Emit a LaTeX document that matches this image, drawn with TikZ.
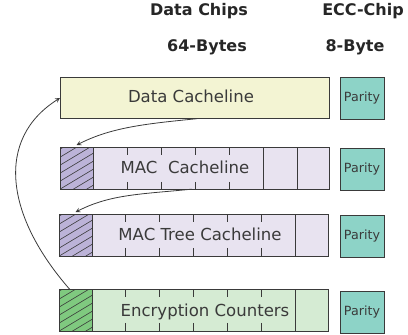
\documentclass[tikz,border=0pt]{standalone}
\usepackage{fontspec}
\setmainfont{DejaVu Sans}
\definecolor{linec}{HTML}{3A3A3A}
\definecolor{datafill}{HTML}{F3F4D3}
\definecolor{macfill}{HTML}{E8E3F0}
\definecolor{machatch}{HTML}{BCB3D8}
\definecolor{encfill}{HTML}{D5EBD3}
\definecolor{enchatch}{HTML}{7FC97F}
\definecolor{parfill}{HTML}{8DD3C7}
\begin{document}
\begin{tikzpicture}[>=stealth,x=0.75pt,y=-0.75pt,
    line/.style={draw=linec,line width=0.7pt,inner sep=0pt,outer sep=0pt},
    cell/.style={line,minimum width=201.75pt,minimum height=31pt},
    hatch/.style={line,minimum width=24.75pt,minimum height=31pt,
        path picture={\foreach \k in {-3,...,7}
            \draw[linec,line width=0.45pt](path picture bounding box.south west)++(0,16-8*\k)--++(40,-24);}},
    parity/.style={line,fill=parfill,minimum width=33pt,minimum height=31.5pt,font=\fontsize{9.5}{10}\selectfont,text=linec},
    label/.style={font=\fontsize{12.4}{14}\selectfont,text=linec},
    head/.style={font=\fontsize{12}{14}\selectfont\bfseries,text=black!85},
    link/.style={->,linec,line width=0.6pt}]
\useasboundingbox(0,0)rectangle(408,335);
\node[head] (hdata) at (199,11) {Data Chips};
\node[head] (hecc) at (363,11) {ECC-Chip};
\node[head] (hsize) at (207,47) {64-Bytes};
\node[head] (hecsize) at (355,47) {8-Byte};

\node[cell,fill=datafill] (data) at (194.5,98) {};
\node[cell,fill=macfill] (mac) at (194.5,168.5) {};
\node[cell,fill=macfill] (tree) at (193.5,235.5) {};
\node[cell,fill=encfill] (enc) at (193.5,310.5) {};

\foreach \x in {127,161,195,229}
{
    \draw[linec](\x,148)--(\x,155);
    \draw[linec](\x,182)--(\x,189);
}
\foreach \x in {263,297}
{
    \draw[linec](\x,148)--(\x,189);
}
\foreach \x in {125,159,193,227,261}
{
    \draw[linec](\x,215)--(\x,222);
    \draw[linec](\x,248)--(\x,256);
    \draw[linec](\x,290)--(\x,297);
    \draw[linec](\x,323)--(\x,331);
}
\draw[linec](295,215)--(295,256);
\draw[linec](295,290)--(295,331);

\node[hatch,fill=machatch] (machatch) at (76.5,168.5) {};
\node[hatch,fill=machatch] (treehatch) at (75.5,235.5) {};
\node[hatch,fill=enchatch] (enchatch) at (75.5,310.5) {};

\node[label] (tdata) at (191,96) {Data Cacheline};
\node[label] (tmac) at (185,167) {MAC\ \ Cacheline};
\node[label] (ttree) at (200,234) {MAC Tree Cacheline};
\node[label] (tenc) at (205,312) {Encryption Counters};

\node[parity] (p1) at (362,98) {Parity};
\node[parity] (p2) at (362,169) {Parity};
\node[parity] (p3) at (362,236) {Parity};
\node[parity] (p4) at (362,312) {Parity};

\draw[link]([xshift=2pt]data.south)..controls +(-50,5) and +(35,-18)..([yshift=2pt]machatch.north);
\draw[link]([xshift=-2pt]mac.south)..controls +(-50,5) and +(35,-18)..([yshift=2pt]treehatch.north);
\draw[link]([xshift=-4pt]enchatch.north)..controls +(-65,-74) and +(-65,41)..(data.west);
\end{tikzpicture}
\end{document}
